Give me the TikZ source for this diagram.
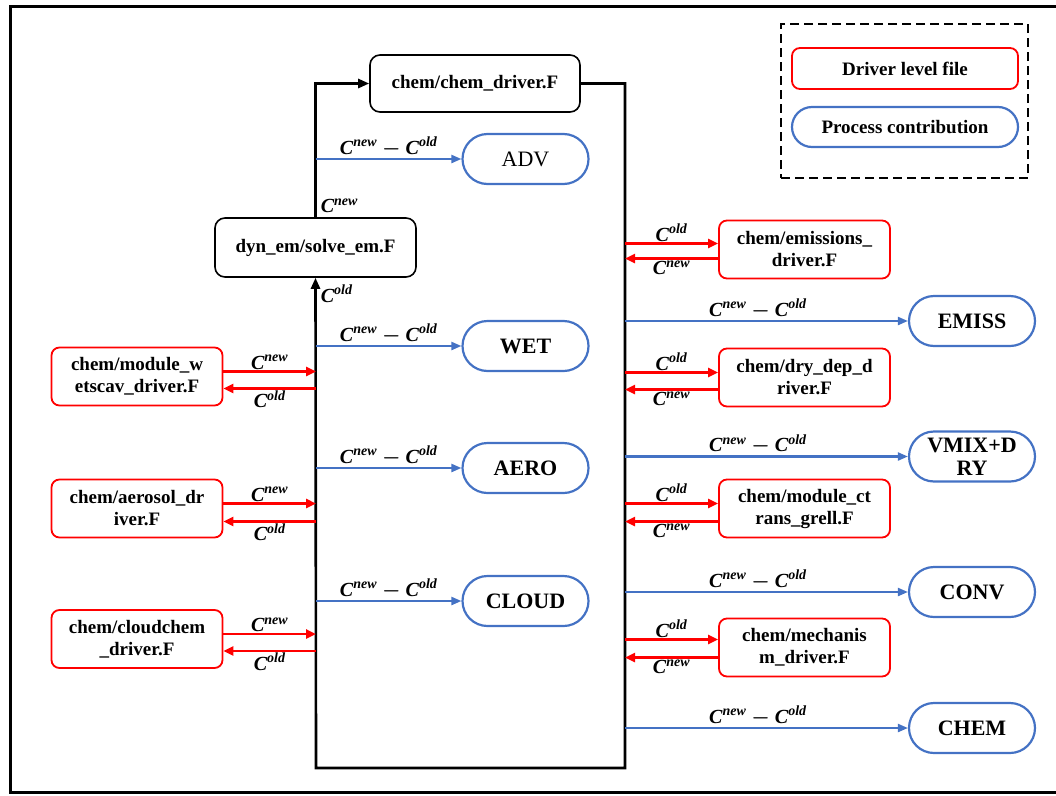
\documentclass[tikz,border=0pt]{standalone}
\usepackage{amsmath,bm}
\usepackage{fontspec}
\setmainfont{Liberation Serif}
\usepackage{tikz}
\usetikzlibrary{positioning,arrows.meta}

\definecolor{procblue}{RGB}{68,114,196}
\newcommand{\drvfont}{\fontsize{19}{22}\selectfont\bfseries}
\newcommand{\procfont}{\fontsize{22}{23}\selectfont}
\newcommand{\labfont}{\fontsize{20}{22}\selectfont\bfseries\itshape}
\newcommand{\cnew}{C\textsuperscript{new}}
\newcommand{\cold}{C\textsuperscript{old}}
\newcommand{\cdiff}{C\textsuperscript{new} $\bm{-}$ C\textsuperscript{old}}

\tikzset{
  core/.style={draw, line width=1.6pt, rounded corners=10pt, font=\drvfont, align=center},
  drv/.style={draw=red, line width=1.8pt, rounded corners=8pt, minimum width=171pt,
    minimum height=58pt, inner sep=1pt, align=center, font=\drvfont},
  proc/.style={draw=procblue, line width=2.2pt, rounded corners=25pt, minimum width=126pt,
    minimum height=50pt, inner sep=1pt, align=center, font={\procfont\bfseries}},
  flow/.style={line width=2.6pt, -{Triangle[length=11pt,width=9pt]}},
  redarr/.style={red, line width=2.4pt, -{Triangle[length=10pt,width=9pt]}},
  bluearr/.style={procblue, line width=2.2pt, -{Triangle[length=10pt,width=8pt]}},
  lab/.style={font=\labfont, text=black, inner sep=1pt}
}

\begin{document}
\begin{tikzpicture}[x=1pt, y=-1pt]
    \useasboundingbox (0,0) rectangle (1056,795);

    % Frame around the whole figure
    \draw[line width=3pt] (1070,6.5) -- (10,6.5) -- (10,792.5) -- (1070,792.5);

    % Core files
    \node[core, minimum width=210pt, minimum height=57pt] (chemdrv) at (475,83.5) {chem/chem\_driver.F};
    \node[core, minimum width=201pt, minimum height=59pt] (solve) at (315.5,247.5) {dyn\_em/solve\_em.F};

    % Corners of the time-step loop
    \coordinate (lx) at (316,768);
    \coordinate (rx) at (625,768);

    % Loop: solve_em -> chem_driver -> back down and round to solve_em
    \draw[flow] (solve.north) |- (chemdrv.west)
        node[pos=0, anchor=south west, lab, xshift=3pt, yshift=2pt] {\cnew};
    \draw[flow] (chemdrv.east) -| (rx) -- (lx) -- (solve.south)
        node[pos=1, anchor=north west, lab, xshift=3pt, yshift=-5pt] {\cold};

    % Process contributions inside the loop
    \node[proc, font=\procfont] (adv) at (525.5,159) {ADV};
    \node[proc] (wet) at (525.5,346) {WET};
    \node[proc] (aero) at (525.5,468) {AERO};
    \node[proc] (cloud) at (525.5,601) {CLOUD};

    \draw[bluearr] (adv.west -| lx) -- (adv.west) node[midway, above, lab] {\cdiff};
    \draw[bluearr] (wet.west -| lx) -- (wet.west) node[midway, above, lab] {\cdiff};
    \draw[bluearr] (aero.west -| lx) -- (aero.west) node[midway, above, lab] {\cdiff};
    \draw[bluearr] (cloud.west -| lx) -- (cloud.west) node[midway, above, lab] {\cdiff};

    % Driver files on the left
    \node[drv] (wetscav) at (137,376.5) {chem/module\_w\\etscav\_driver.F};
    \node[drv] (aerosol) at (137,508.5) {chem/aerosol\_dr\\iver.F};
    \node[drv] (cloudchem) at (137,639) {chem/cloudchem\\\_driver.F};

    \draw[redarr] ([yshift=5pt]wetscav.east) -- ([yshift=5pt]wetscav.east -| lx) node[midway, above, lab] {\cnew};
    \draw[redarr] ([yshift=-12pt]wetscav.east -| lx) -- ([yshift=-12pt]wetscav.east) node[midway, below, lab] {\cold};
    \draw[redarr] ([yshift=5pt]aerosol.east) -- ([yshift=5pt]aerosol.east -| lx) node[midway, above, lab] {\cnew};
    \draw[redarr] ([yshift=-13pt]aerosol.east -| lx) -- ([yshift=-13pt]aerosol.east) node[midway, below, lab] {\cold};
    \draw[redarr] ([yshift=5pt]cloudchem.east) -- ([yshift=5pt]cloudchem.east -| lx) node[midway, above, lab] {\cnew};
    \draw[redarr] ([yshift=-12pt]cloudchem.east -| lx) -- ([yshift=-12pt]cloudchem.east) node[midway, below, lab] {\cold};

    % Driver files on the right
    \node[drv] (emisdrv) at (804.5,249.5) {chem/emissions\_\\driver.F};
    \node[drv] (drydep) at (804.5,377.5) {chem/dry\_dep\_d\\river.F};
    \node[drv] (ctrans) at (804.5,508.5) {chem/module\_ct\\rans\_grell.F};
    \node[drv] (mechdrv) at (804.5,647.5) {chem/mechanis\\m\_driver.F};

    \draw[redarr] ([yshift=6pt]emisdrv.west -| rx) -- ([yshift=6pt]emisdrv.west) node[midway, above, lab] {\cold};
    \draw[redarr] ([yshift=-9pt]emisdrv.west) -- ([yshift=-9pt]emisdrv.west -| rx) node[midway, below, lab] {\cnew};
    \draw[redarr] ([yshift=5pt]drydep.west -| rx) -- ([yshift=5pt]drydep.west) node[midway, above, lab] {\cold};
    \draw[redarr] ([yshift=-12pt]drydep.west) -- ([yshift=-12pt]drydep.west -| rx) node[midway, below, lab] {\cnew};
    \draw[redarr] ([yshift=5pt]ctrans.west -| rx) -- ([yshift=5pt]ctrans.west) node[midway, above, lab] {\cold};
    \draw[redarr] ([yshift=-13pt]ctrans.west) -- ([yshift=-13pt]ctrans.west -| rx) node[midway, below, lab] {\cnew};
    \draw[redarr] ([yshift=8pt]mechdrv.west -| rx) -- ([yshift=8pt]mechdrv.west) node[midway, above, lab] {\cold};
    \draw[redarr] ([yshift=-10pt]mechdrv.west) -- ([yshift=-10pt]mechdrv.west -| rx) node[midway, below, lab] {\cnew};

    % Process contributions outside the loop
    \node[proc] (emiss) at (972,321) {EMISS};
    \node[proc] (vmix) at (972,456.5) {VMIX+D\\RY};
    \node[proc] (conv) at (972,592) {CONV};
    \node[proc] (chem) at (972,728) {CHEM};

    \draw[bluearr] (emiss.west -| rx) -- (emiss.west) node[pos=0.47, above, lab] {\cdiff};
    \draw[bluearr] (vmix.west -| rx) -- (vmix.west) node[pos=0.47, above, lab] {\cdiff};
    \draw[bluearr] (conv.west -| rx) -- (conv.west) node[pos=0.47, above, lab] {\cdiff};
    \draw[bluearr] (chem.west -| rx) -- (chem.west) node[pos=0.47, above, lab] {\cdiff};

    % Legend
    \node[draw, line width=2.6pt, dash pattern=on 9pt off 5pt, minimum width=247pt, minimum height=154pt] (legend) at (904.5,101) {};
    \node[drv, minimum width=226pt, minimum height=41pt] (legdrv) at (905,68.5) {Driver level file};
    \node[proc, rounded corners=20pt, minimum width=226pt, minimum height=40pt, font=\drvfont] (legproc) at (905,127) {Process contribution};
\end{tikzpicture}
\end{document}
